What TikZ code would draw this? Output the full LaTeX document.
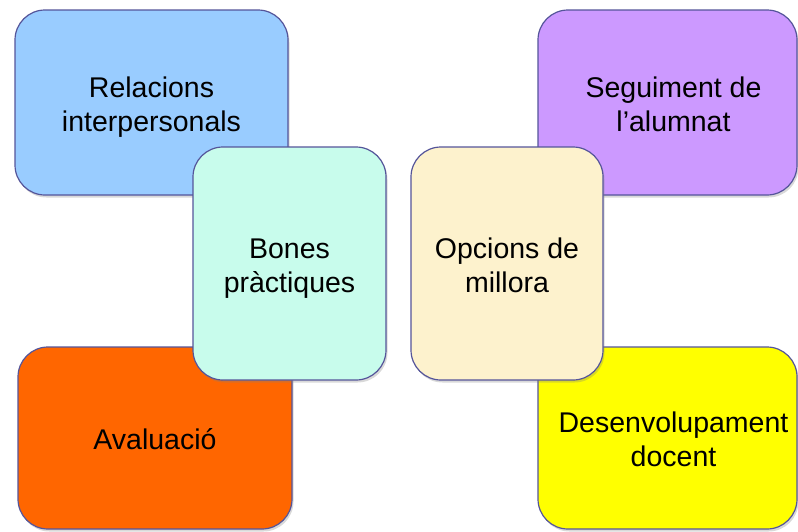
\documentclass[tikz,border=0pt]{standalone}
\usepackage{fontspec}
\setmainfont{Liberation Sans}
\usetikzlibrary{shadows}
\definecolor{relblue}{HTML}{99CCFF}
\definecolor{bonmint}{HTML}{C8FCEC}
\definecolor{avalorange}{HTML}{FF6600}
\definecolor{opccream}{HTML}{FDF2CD}
\definecolor{segpurple}{HTML}{CC99FF}
\definecolor{desyellow}{HTML}{FFFF00}
\definecolor{edge}{HTML}{55559A}
% tile text, a little below the middle (optional: extra room on the left)
\newcommand\tiletext[2][0pt]{\hspace*{#1}\raisebox{-5pt}[\height][\depth]{\begin{tabular}{@{}c@{}}#2\end{tabular}}}
\begin{document}
\begin{tikzpicture}[x=1pt,y=-1pt,
  tile/.style={draw=edge, line width=1.2pt, rounded corners=30pt,
    inner sep=0pt, font=\fontsize{28.5}{34}\selectfont,
    drop shadow={shadow xshift=1.5pt, shadow yshift=-2.5pt, opacity=0.3}}]
\useasboundingbox (0,0) rectangle (798,531);
% corner tiles
\node (rel) at (151.5,102.5)[tile, fill=relblue, minimum width=273pt, minimum height=185pt]{\tiletext{Relacions\\interpersonals}};
\node (aval) at (155,438)[tile, fill=avalorange, minimum width=274pt, minimum height=182pt]{\tiletext{Avaluació}};
\node (seg) at (667.5,102.5)[tile, fill=segpurple, minimum width=259pt, minimum height=185pt]{\tiletext[12pt]{Seguiment de\\l’alumnat}};
\node (des) at (667.5,438)[tile, fill=desyellow, minimum width=259pt, minimum height=182pt]{\tiletext[12pt]{Desenvolupament\\docent}};
% middle tiles
\node (bon) at (289.5,263.5)[tile, fill=bonmint, minimum width=193pt, minimum height=233pt]{\tiletext{Bones\\pràctiques}};
\node (opc) at (507,263.5)[tile, fill=opccream, minimum width=192pt, minimum height=233pt]{\tiletext{Opcions de\\millora}};

\end{tikzpicture}
\end{document}
